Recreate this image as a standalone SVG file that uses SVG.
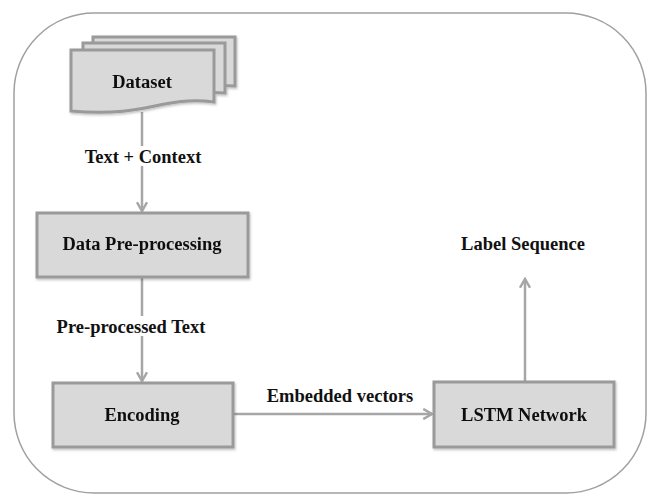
<svg xmlns="http://www.w3.org/2000/svg" width="649" height="494" viewBox="0 0 649 494">
<style>
.box{fill:#d9d9d9;stroke:#9a9a9a;stroke-width:3}
.t{font-family:"Liberation Serif",serif;font-weight:bold;font-size:18.5px;fill:#111;text-anchor:middle}
.c{stroke:#a6a6a6;stroke-width:2.5;fill:none}
</style>
<defs>
<marker id="ah" viewBox="0 0 10 10" refX="8" refY="5" markerWidth="5" markerHeight="5" orient="auto" markerUnits="strokeWidth">
<path d="M1,1 L8,5 L1,9" fill="none" stroke="#a6a6a6" stroke-width="2"/>
</marker>
<filter id="sh" x="-10%" y="-10%" width="120%" height="130%">
<feDropShadow dx="1" dy="1.5" stdDeviation="1" flood-color="#000" flood-opacity="0.25"/>
</filter>
</defs>
<rect x="14" y="13" width="632" height="480" rx="80" ry="80" fill="#fff" stroke="#a0a0a0" stroke-width="1.5"/>
<g id="connectors">
<line class="c" x1="142" y1="112" x2="142" y2="211" marker-end="url(#ah)"/>
<line class="c" x1="142" y1="278" x2="142" y2="381" marker-end="url(#ah)"/>
<line class="c" x1="234" y1="414" x2="432" y2="414" marker-end="url(#ah)"/>
<line class="c" x1="525" y1="381" x2="525" y2="279" marker-end="url(#ah)"/>
<rect x="78" y="146" width="132" height="20" fill="#fff"/>
<rect x="52" y="316" width="160" height="20" fill="#fff"/>
<rect x="262" y="386" width="156" height="20" fill="#fff"/>
<text class="t" x="143" y="163">Text + Context</text>
<text class="t" x="131" y="333">Pre-processed Text</text>
<text class="t" x="340" y="402">Embedded vectors</text>
<text class="t" x="523" y="250">Label Sequence</text>
</g>
<g id="dataset" filter="url(#sh)">
<path class="box" d="M93,37 H235 V86 C210,84 195,88 180,92 L93,92 Z"/>
<path class="box" d="M83,43 H225 V93 C200,91 185,95 170,99 L83,99 Z"/>
<path class="box" d="M71,50 H214 V102 C185,98 165,104 145,108 C120,113 95,113 71,111 Z"/>
<text class="t" x="142" y="88">Dataset</text>
</g>
<g id="preprocessing" filter="url(#sh)">
<rect class="box" x="37" y="213" width="211" height="64"/>
<text class="t" x="142" y="250">Data Pre-processing</text>
</g>
<g id="encoding" filter="url(#sh)">
<rect class="box" x="53" y="383" width="180" height="64"/>
<text class="t" x="142" y="421">Encoding</text>
</g>
<g id="lstm" filter="url(#sh)">
<rect class="box" x="434" y="382" width="180" height="65"/>
<text class="t" x="524" y="421">LSTM Network</text>
</g>
</svg>
